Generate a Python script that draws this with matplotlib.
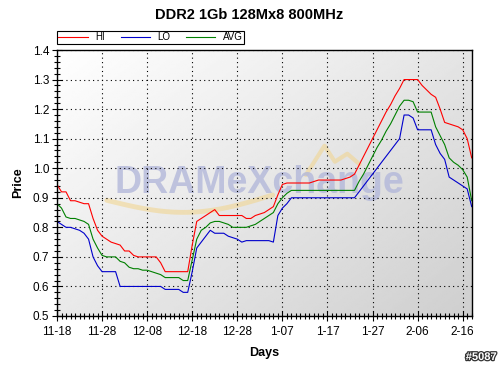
import numpy as np
import matplotlib
matplotlib.use("Agg")
import matplotlib.pyplot as plt
import matplotlib.patheffects as pe
from matplotlib.ticker import MultipleLocator

plt.rcParams['font.family'] = ['Liberation Sans', 'DejaVu Sans']

tick_labels = ["11-18", "11-28", "12-08", "12-18", "12-28", "1-07", "1-17", "1-27", "2-06", "2-16"]

hi = [0.945, 0.92, 0.92, 0.89, 0.89, 0.885, 0.88, 0.88, 0.83, 0.79,
      0.77, 0.76, 0.75, 0.745, 0.74, 0.72, 0.72, 0.705, 0.70, 0.70,
      0.70, 0.70, 0.70, 0.68, 0.65, 0.65, 0.65, 0.65, 0.65, 0.65,
      0.74, 0.82, 0.83, 0.84, 0.85, 0.86, 0.84, 0.84, 0.84, 0.84,
      0.84, 0.84, 0.83, 0.83, 0.84, 0.845, 0.85, 0.86, 0.87, 0.91,
      0.945, 0.95, 0.95, 0.95, 0.95, 0.95, 0.95, 0.955, 0.96, 0.96,
      0.96, 0.96, 0.96, 0.96, 0.965, 0.97, 0.98, 1.01, 1.04, 1.07,
      1.10, 1.13, 1.16, 1.19, 1.215, 1.245, 1.27, 1.30, 1.30, 1.30,
      1.30, 1.28, 1.265, 1.25, 1.24, 1.20, 1.155, 1.15, 1.145, 1.14,
      1.13, 1.10, 1.035]

lo = [0.82, 0.81, 0.80, 0.80, 0.795, 0.79, 0.78, 0.76, 0.70, 0.67,
      0.65, 0.65, 0.65, 0.65, 0.60, 0.60, 0.60, 0.60, 0.60, 0.60,
      0.60, 0.60, 0.60, 0.60, 0.59, 0.59, 0.59, 0.59, 0.58, 0.58,
      0.65, 0.73, 0.75, 0.77, 0.79, 0.78, 0.78, 0.78, 0.77, 0.765,
      0.76, 0.75, 0.755, 0.755, 0.755, 0.755, 0.755, 0.755, 0.75, 0.84,
      0.865, 0.88, 0.90, 0.90, 0.90, 0.90, 0.90, 0.90, 0.90, 0.90,
      0.90, 0.90, 0.90, 0.90, 0.90, 0.90, 0.90, 0.92, 0.94, 0.96,
      0.98, 1.00, 1.02, 1.04, 1.06, 1.08, 1.10, 1.18, 1.18, 1.17,
      1.13, 1.13, 1.13, 1.13, 1.08, 1.05, 1.03, 0.97, 0.96, 0.95,
      0.94, 0.93, 0.87]

avg = [0.88, 0.865, 0.835, 0.83, 0.83, 0.825, 0.82, 0.81, 0.76, 0.73,
       0.705, 0.70, 0.70, 0.70, 0.685, 0.68, 0.665, 0.66, 0.66, 0.655,
       0.655, 0.65, 0.645, 0.64, 0.63, 0.63, 0.63, 0.63, 0.62, 0.62,
       0.69, 0.76, 0.79, 0.80, 0.815, 0.82, 0.82, 0.815, 0.81, 0.80,
       0.80, 0.80, 0.80, 0.805, 0.81, 0.82, 0.83, 0.84, 0.85, 0.88,
       0.90, 0.915, 0.925, 0.925, 0.925, 0.925, 0.925, 0.925, 0.925, 0.925,
       0.925, 0.925, 0.925, 0.925, 0.925, 0.925, 0.925, 0.955, 0.98, 1.01,
       1.04, 1.07, 1.095, 1.125, 1.15, 1.18, 1.21, 1.23, 1.23, 1.225,
       1.19, 1.19, 1.19, 1.19, 1.14, 1.11, 1.08, 1.035, 1.02, 1.01,
       0.995, 0.97, 0.89]

days = np.arange(len(hi))

W, H = 499, 368
fig = plt.figure(figsize=(W / 100, H / 100), dpi=100)
fig.patch.set_facecolor('white')
ax = fig.add_axes([57 / W, 1 - 316 / H, (471.7 - 57) / W, (316 - 50) / H])

# gradient background: light top-left, grey bottom-right
gx, gy = np.meshgrid(np.linspace(0, 1, 200), np.linspace(0, 1, 200))
g = 1.0 - 0.19 * (0.55 * gx + 0.45 * gy)
ax.imshow(g, extent=[0, 1, 0, 1], transform=ax.transAxes, cmap='gray', origin='upper',
          vmin=0, vmax=1, aspect='auto', zorder=0, interpolation='bilinear')

# watermark
t = np.linspace(0, 1, 100)
ax.plot(0.12 + 0.40 * t, 0.435 - 0.055 * np.sin(np.pi * t) + 0.02 * t, transform=ax.transAxes,
        color='#f2d48a', lw=3.5, alpha=0.55, zorder=1, solid_capstyle='round')
ax.plot([0.60, 0.645, 0.67, 0.70, 0.73], [0.53, 0.64, 0.58, 0.61, 0.57], transform=ax.transAxes,
        color='#f2d48a', lw=3, alpha=0.55, zorder=1, solid_capstyle='round')
ax.text(0.487, 0.50, "DRAMeXchange", transform=ax.transAxes, ha='center', va='center',
        fontsize=27, fontweight='bold', color='#b3b8da', alpha=0.8, zorder=1)

ax.plot(days, hi, color='#ff0000', lw=0.8, label='HI', zorder=3)
ax.plot(days, lo, color='#0000cc', lw=0.8, label='LO', zorder=3)
ax.plot(days, avg, color='#008000', lw=0.8, label='AVG', zorder=3)

ax.set_xlim(0, 92)
ax.set_ylim(0.5, 1.4)
ax.set_xticks(np.arange(0, 91, 10))
ax.set_xticklabels(tick_labels)
ax.xaxis.set_minor_locator(MultipleLocator(1))
ax.yaxis.set_major_locator(MultipleLocator(0.1))
ax.yaxis.set_minor_locator(MultipleLocator(0.02))
ax.yaxis.set_major_formatter(matplotlib.ticker.FormatStrFormatter('%.1f'))
ax.tick_params(which='major', direction='inout', length=7, width=0.8, labelsize=8.5, pad=2)
ax.tick_params(which='minor', direction='inout', length=4, width=0.8)
ax.tick_params(axis='x', which='major', pad=4)
ax.grid(True, which='major', color='black', linestyle=(0, (1, 3)), linewidth=0.8, zorder=2)
for s in ax.spines.values():
    s.set_color('black')
    s.set_linewidth(1)
    s.set_zorder(4)

ax.set_ylabel('Price', fontsize=9, fontweight='bold', labelpad=6)
ax.set_xlabel('Days', fontsize=9, fontweight='bold', labelpad=6)

fig.text(0.5, 1 - 15 / H, 'DDR2 1Gb 128Mx8 800MHz', ha='center', va='center',
         fontsize=10.5, fontweight='bold')

leg = ax.legend(loc='lower left', bbox_to_anchor=(0, 1.023), ncol=3, fontsize=7,
                frameon=True, fancybox=False, edgecolor='black', framealpha=1,
                handlelength=3.0, handletextpad=0.8, columnspacing=1.6,
                borderpad=0.15, borderaxespad=0)
leg.get_frame().set_linewidth(0.8)

fig.text(497 / W, 1 - 357 / H, '#5087', ha='right', va='center', fontsize=8,
         fontweight='bold', color='white',
         path_effects=[pe.withStroke(linewidth=1.8, foreground='#333333')])

fig.savefig('out.png', dpi=100)
